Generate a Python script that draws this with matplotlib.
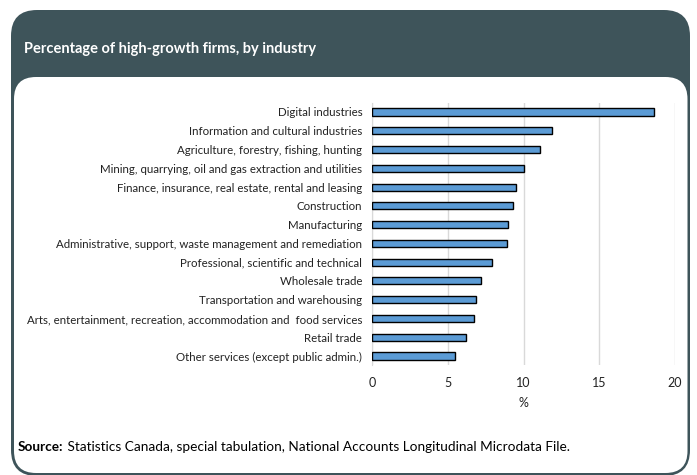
import matplotlib
matplotlib.use("Agg")
import matplotlib.pyplot as plt
from matplotlib.patches import FancyBboxPatch

categories = [
    "Digital industries",
    "Information and cultural industries",
    "Agriculture, forestry, fishing, hunting",
    "Mining, quarrying, oil and gas extraction and utilities",
    "Finance, insurance, real estate, rental and leasing",
    "Construction",
    "Manufacturing",
    "Administrative, support, waste management and remediation",
    "Professional, scientific and technical",
    "Wholesale trade",
    "Transportation and warehousing",
    "Arts, entertainment, recreation, accommodation and  food services",
    "Retail trade",
    "Other services (except public admin.)",
]
values = [18.6, 11.85, 11.1, 10.0, 9.5, 9.3, 9.0, 8.9, 7.95, 7.2, 6.85, 6.75, 6.2, 5.45]
xticks = [0, 5, 10, 15, 20]
title = "Percentage of high-growth firms, by industry"
xlabel = "%"
source_bold = "Source:"
source_text = " Statistics Canada, special tabulation, National Accounts Longitudinal Microdata File."

DARK = "#3E545A"
BAR = "#5B9BD5"
W, H = 697, 475
fig = plt.figure(figsize=(W / 100, H / 100), dpi=100)
fig.patch.set_facecolor("white")

def px_box(x0, y0, x1, y1, r, **kw):
    return FancyBboxPatch((x0 / 100, (H - y1) / 100), (x1 - x0) / 100, (y1 - y0) / 100,
                          boxstyle=f"round,pad=0,rounding_size={r/100}",
                          transform=fig.dpi_scale_trans, **kw)

fig.patches.append(px_box(11, 10, 690, 476, 26, facecolor=DARK, edgecolor="none", zorder=-3))
fig.patches.append(px_box(14, 77, 687.5, 473, 22, facecolor="white", edgecolor="none", zorder=-2))

fig.text(24 / W, 1 - 49 / H, title, color="white", fontsize=10.5, fontweight="bold",
         family="Lato", va="center", ha="left")

ax = fig.add_axes([372 / W, 1 - 365.4 / H, (675 - 372) / W, 262.8 / H])
ax.set_zorder(1)
ax.patch.set_alpha(0)
ypos = list(range(len(categories)))
ax.barh(ypos, values, height=0.38, color=BAR, edgecolor="black", linewidth=1.0, zorder=3)
ax.set_ylim(len(categories) - 0.5, -0.5)
ax.set_xlim(0, 20)
ax.set_xticks(xticks)
ax.set_yticks(ypos)
ax.set_yticklabels(categories)
ax.grid(axis="x", color="#D9D9D9", linewidth=1.0, zorder=0)
for s in ["top", "right", "bottom"]:
    ax.spines[s].set_visible(False)
ax.spines["left"].set_color("#D9D9D9")
ax.tick_params(axis="both", length=0, labelsize=8.3, colors="#222222")
ax.tick_params(axis="y", pad=7)
ax.tick_params(axis="x", pad=8)
ax.tick_params(axis="x", labelsize=9)
for lab in ax.get_yticklabels() + ax.get_xticklabels():
    lab.set_family("Lato")
ax.set_xlabel(xlabel, family="Lato", fontsize=9, color="#222222", labelpad=6)

t = fig.text(18 / W, 1 - 447 / H, source_bold, fontsize=9.8, fontweight="bold", family="Lato",
             va="center", ha="left", color="black")
fig.canvas.draw()
bb = t.get_window_extent()
fig.text(bb.x1 / W, 1 - 447 / H, source_text, fontsize=9.8, family="Lato",
         va="center", ha="left", color="black")

fig.savefig("out.png", dpi=100)
